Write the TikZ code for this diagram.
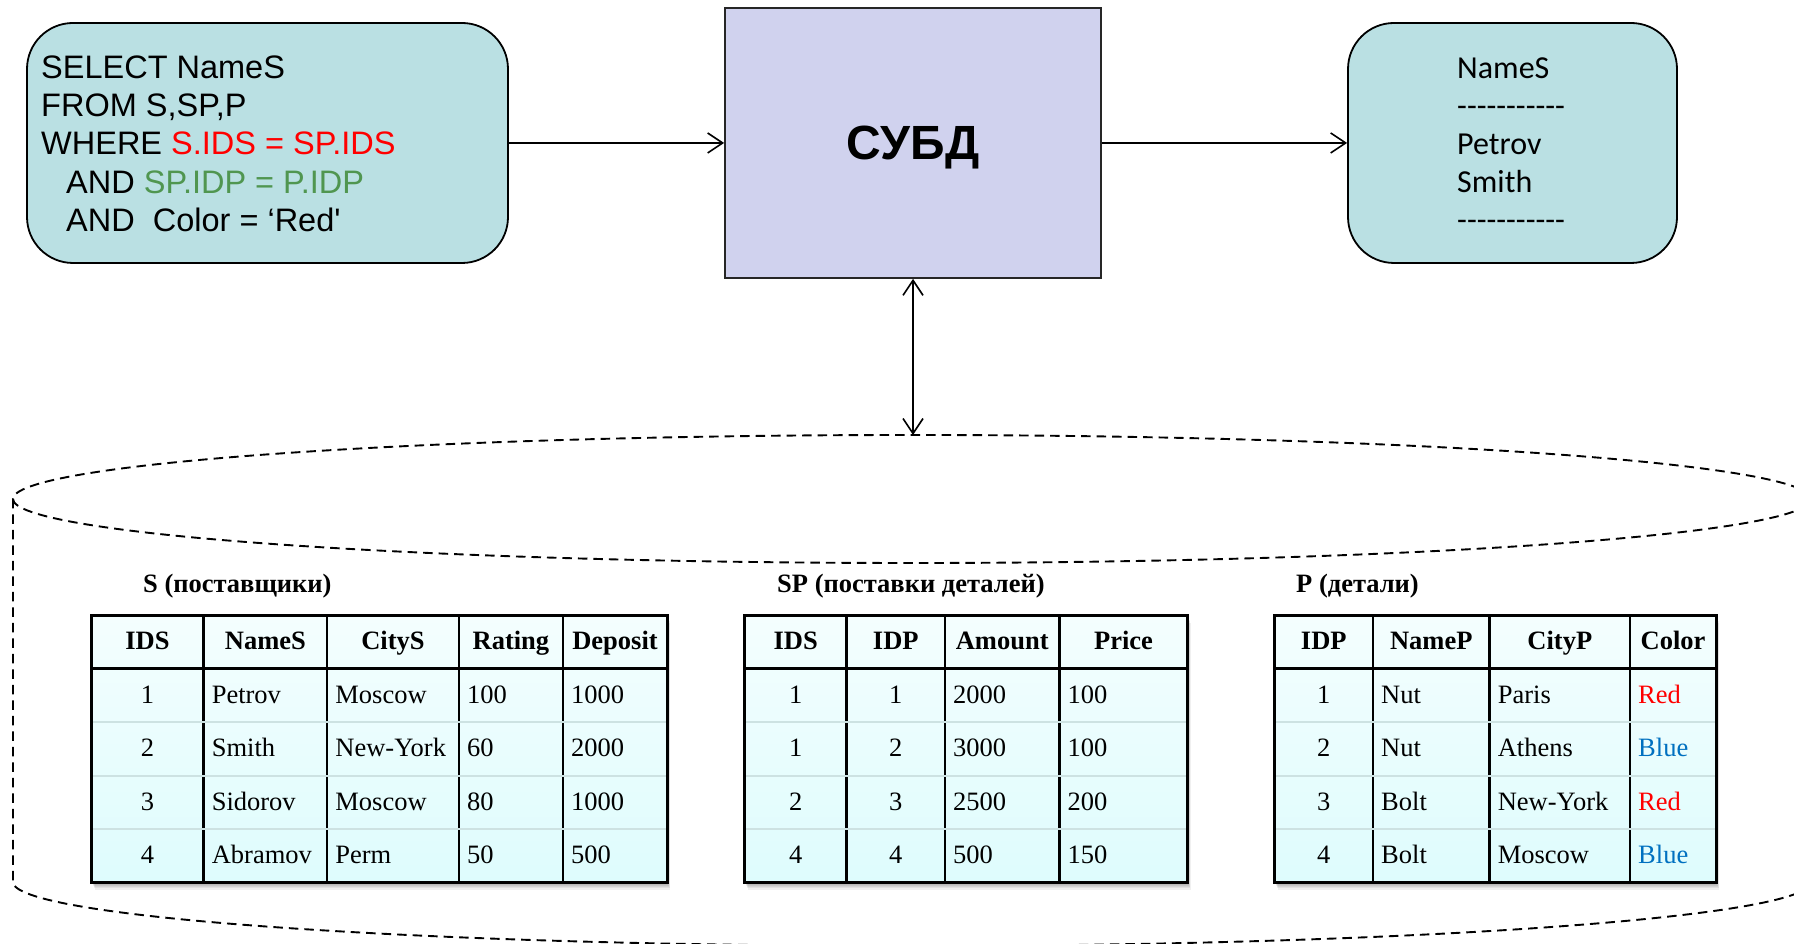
\documentclass[tikz,border=0pt]{standalone}
\usepackage{fontspec}
\usetikzlibrary{arrows.meta}
\newfontfamily\sqlfont{Liberation Sans}
\newfontfamily\resfont{Carlito}
\newfontfamily\tabfont{Liberation Serif}

\definecolor{boxteal}{RGB}{186,224,227}
\definecolor{dbmsfill}{RGB}{208,210,238}
\definecolor{condred}{RGB}{255,0,0}
\definecolor{condgreen}{RGB}{80,150,80}
\definecolor{valblue}{RGB}{0,112,192}
\definecolor{celltop}{RGB}{244,254,254}
\definecolor{cellbot}{RGB}{222,252,253}
\definecolor{rowgray}{RGB}{205,226,226}

\tikzset{
  querybox/.style={draw=black, line width=1.8pt, fill=boxteal, rounded corners=46pt,
    inner sep=0pt, minimum width=481pt, minimum height=240pt},
  resultbox/.style={querybox, minimum width=329pt},
  dbmsbox/.style={draw=black!85, line width=1.8pt, fill=dbmsfill, inner sep=0pt,
    minimum width=376pt, minimum height=270pt, text depth=0pt,
    font=\sqlfont\bfseries\fontsize{48}{50}\selectfont},
  sqlline/.style={anchor=base west, inner sep=0pt, font=\sqlfont\fontsize{32.5}{38}\selectfont},
  resline/.style={anchor=base west, inner sep=0pt, font=\resfont\fontsize{32}{38}\selectfont},
  flow/.style={line width=1.6pt, -{Straight Barb[length=15pt,width=20pt]}},
  dbline/.style={line width=1.9pt, dash pattern=on 9.5pt off 6pt},
  tabtitle/.style={anchor=base west, inner sep=0pt,
    font=\tabfont\bfseries\fontsize{26.5}{30}\selectfont},
  hcell/.style={inner sep=0pt, text height=18pt, text depth=0pt,
    font=\tabfont\bfseries\fontsize{26.5}{30}\selectfont},
  ncell/.style={inner sep=0pt, text height=18pt, text depth=0pt,
    font=\tabfont\fontsize{26.5}{30}\selectfont},
  tcell/.style={ncell, anchor=west},
  frame/.style={draw=black, line width=3pt},
  colrule/.style={draw=black, line width=2.4pt},
  headrule/.style={draw=black, line width=3pt},
  rowrule/.style={draw=rowgray, line width=2pt},
}

% body of a relation table: shadow, shaded cells, rules and outer frame
% #1 left x, #2 right x, #3 inner column rules
\newcommand\tableframe[3]{%
  \foreach \i in {1,...,6}
    \fill[black, opacity=0.06] ({#1+0.5*\i},{61-1.1*\i}) rectangle ({#2+0.5*\i},{328-1.1*\i});
  \shade[top color=celltop, bottom color=cellbot] (#1,61) rectangle (#2,328);
  \foreach \x in {#3} \draw[colrule] (\x,61) -- (\x,328);
  \foreach \y in {221.5,168,114.5} \draw[rowrule] (#1,\y) -- (#2,\y);
  \draw[headrule] (#1,275) -- (#2,275);
  \draw[frame] (#1,61) rectangle (#2,328);
}

\begin{document}
\begin{tikzpicture}[x=1pt, y=1pt]
\useasboundingbox (0,0) rectangle (1794,944);
\fill[white] (0,0) rectangle (1794,944);
\clip (0,0) rectangle (1794,944);

% ---------- database cylinder ----------
\draw[dbline] (912,445) ellipse [x radius=899, y radius=64];
\draw[dbline] (13,445) -- (13,62) arc[start angle=180, end angle=360, x radius=899, y radius=64] -- (1811,445);
\coordinate (dbtop) at (913,509);

% ---------- query, DBMS, result ----------
\node[querybox] (sql) at (267.5,801) {};
\node[dbmsbox] (dbms) at (913,801) {СУБД};
\node[resultbox] (res) at (1512.5,801) {};

\node[sqlline] (q1) at (41,865) {SELECT NameS};
\node[sqlline] (q2) at (41,827.2) {FROM S,SP,P};
\node[sqlline] (q3) at (41,789.5) {WHERE \textcolor{condred}{S.IDS = SP.IDS}};
\node[sqlline] (q4) at (66,750.6) {AND \textcolor{condgreen}{SP.IDP = P.IDP}};
\node[sqlline] (q5) at (66,712.8) {AND\ \ Color = ‘Red'};

\node[resline] (r1) at (1457,865.7) {NameS};
\node[resline] (r2) at (1457,827.7) {-----------};
\node[resline] (r3) at (1457,789.7) {Petrov};
\node[resline] (r4) at (1457,751.7) {Smith};
\node[resline] (r5) at (1457,713.7) {-----------};

\draw[flow] (sql.east) -- (dbms.west);
\draw[flow] (dbms.east) -- (res.west);
\draw[flow, {Straight Barb[length=15pt,width=20pt]}-{Straight Barb[length=15pt,width=20pt]}] (dbms.south) -- (dbtop);

% ---------- table S ----------
\node[tabtitle] (s-title) at (143,351) {S (поставщики)};
\tableframe{91.5}{667}{203.6,327.2,458.8,562.9}
\node[hcell] (s-h1) at (147.5,303) {IDS};
\node[hcell] (s-h2) at (265.4,303) {NameS};
\node[hcell] (s-h3) at (393,303) {CityS};
\node[hcell] (s-h4) at (510.9,303) {Rating};
\node[hcell] (s-h5) at (615,303) {Deposit};
\foreach \v [count=\r] in {1,2,3,4}
  \node[ncell] (s-\r-1) at (147.5,{303-53.5*\r}) {\v};
\foreach \v [count=\r] in {Petrov,Smith,Sidorov,Abramov}
  \node[tcell] (s-\r-2) at (211.6,{303-53.5*\r}) {\v};
\foreach \v [count=\r] in {Moscow,New-York,Moscow,Perm}
  \node[tcell] (s-\r-3) at (335.2,{303-53.5*\r}) {\v};
\foreach \v [count=\r] in {100,60,80,50}
  \node[tcell] (s-\r-4) at (466.8,{303-53.5*\r}) {\v};
\foreach \v [count=\r] in {1000,2000,1000,500}
  \node[tcell] (s-\r-5) at (570.9,{303-53.5*\r}) {\v};

% ---------- table SP ----------
\node[tabtitle] (sp-title) at (777,351) {SP (поставки деталей)};
\tableframe{744.8}{1187.6}{846.6,945,1059.4}
\node[hcell] (sp-h1) at (795.7,303) {IDS};
\node[hcell] (sp-h2) at (895.8,303) {IDP};
\node[hcell] (sp-h3) at (1002.2,303) {Amount};
\node[hcell] (sp-h4) at (1123.5,303) {Price};
\foreach \v [count=\r] in {1,1,2,4}
  \node[ncell] (sp-\r-1) at (795.7,{303-53.5*\r}) {\v};
\foreach \v [count=\r] in {1,2,3,4}
  \node[ncell] (sp-\r-2) at (895.8,{303-53.5*\r}) {\v};
\foreach \v [count=\r] in {2000,3000,2500,500}
  \node[tcell] (sp-\r-3) at (953,{303-53.5*\r}) {\v};
\foreach \v [count=\r] in {100,100,200,150}
  \node[tcell] (sp-\r-4) at (1067.4,{303-53.5*\r}) {\v};

% ---------- table P ----------
\node[tabtitle] (p-title) at (1296,351) {P (детали)};
\tableframe{1274.5}{1716.2}{1373,1489.6,1630}
\node[hcell] (p-h1) at (1323.75,303) {IDP};
\node[hcell] (p-h2) at (1431.3,303) {NameP};
\node[hcell] (p-h3) at (1559.8,303) {CityP};
\node[hcell] (p-h4) at (1673.1,303) {Color};
\foreach \v [count=\r] in {1,2,3,4}
  \node[ncell] (p-\r-1) at (1323.75,{303-53.5*\r}) {\v};
\foreach \v [count=\r] in {Nut,Nut,Bolt,Bolt}
  \node[tcell] (p-\r-2) at (1381,{303-53.5*\r}) {\v};
\foreach \v [count=\r] in {Paris,Athens,New-York,Moscow}
  \node[tcell] (p-\r-3) at (1497.6,{303-53.5*\r}) {\v};
\foreach \v/\c [count=\r] in {Red/condred,Blue/valblue,Red/condred,Blue/valblue}
  \node[tcell, text=\c] (p-\r-4) at (1638,{303-53.5*\r}) {\v};
\end{tikzpicture}
\end{document}
